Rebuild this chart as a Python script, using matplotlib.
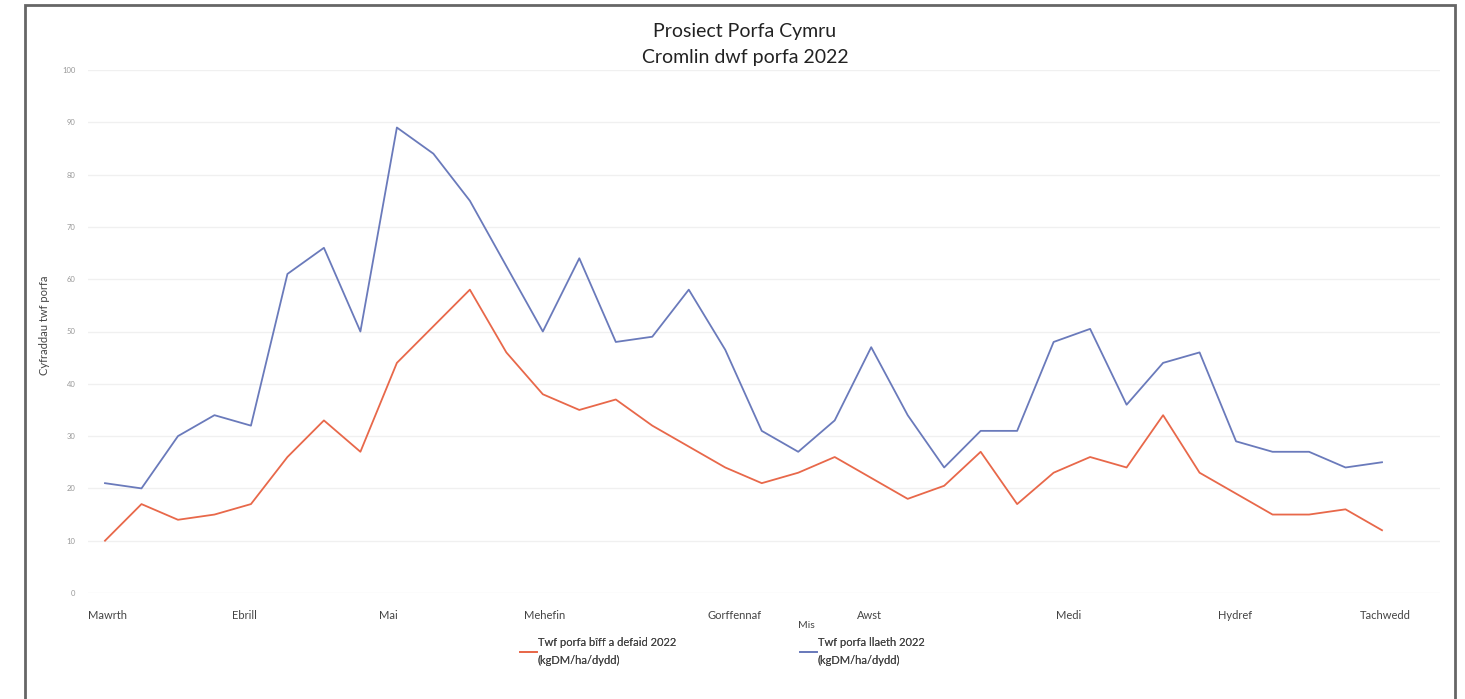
import matplotlib
matplotlib.use("Agg")
import matplotlib.pyplot as plt
from matplotlib.patches import Rectangle
import numpy as np

plt.rcParams['font.family'] = ['Lato', 'DejaVu Sans']

# --- data ---
title_lines = ["Prosiect Porfa Cymru", "Cromlin dwf porfa 2022"]
y_label = "Cyfraddau twf porfa"
x_label = "Mis"
series_names = ["Twf porfa bîff a defaid 2022\n(kgDM/ha/dydd)",
                "Twf porfa llaeth 2022\n(kgDM/ha/dydd)"]
beef_sheep = [10, 17, 14, 15, 17, 26, 33, 27, 44, 51, 58, 46, 38, 35, 37, 32,
              28, 24, 21, 23, 26, 22, 18, 20.5, 27, 17, 23, 26, 24, 34, 23, 19,
              15, 15, 16, 12]
dairy = [21, 20, 30, 34, 32, 61, 66, 50, 89, 84, 75, 62.5, 50, 64, 48, 49,
         58, 46.5, 31, 27, 33, 47, 34, 24, 31, 31, 48, 50.5, 36, 44, 46, 29,
         27, 27, 24, 25]
months = ["Mawrth", "Ebrill", "Mai", "Mehefin", "Gorffennaf", "Awst", "Medi",
          "Hydref", "Tachwedd"]
month_pos = [0.07, 3.82, 7.76, 12.06, 17.25, 20.94, 26.4, 30.97, 35.1]
y_ticks = [0, 10, 20, 30, 40, 50, 60, 70, 80, 90, 100]

W, H = 1465, 699
fig = plt.figure(figsize=(W / 100, H / 100), dpi=100)
fig.patch.set_facecolor('white')

# outer frame
fig.add_artist(Rectangle((25 / W, -0.05), (1455 - 25) / W, 1.05 - 5 / H,
                         transform=fig.transFigure, fill=False,
                         edgecolor='#666666', linewidth=2))

ax_l, ax_r, ax_t, ax_b = 88, 1440, 70, 593
ax = fig.add_axes([ax_l / W, 1 - ax_b / H, (ax_r - ax_l) / W, (ax_b - ax_t) / H])
x = np.arange(len(dairy))
l1, = ax.plot(x, beef_sheep, color='#e8684a', linewidth=1.3)
l2, = ax.plot(x, dairy, color='#6a7abb', linewidth=1.3)

step = (1382 - 105) / 35
ax.set_xlim(-(105 - ax_l) / step, 35 + (ax_r - 1382) / step)
ax.set_ylim(0, 100)
ax.set_yticks(y_ticks)
ax.set_yticklabels([str(v) for v in y_ticks], fontsize=5.5, color='#999999')
ax.set_xticks(month_pos)
ax.set_xticklabels(months, fontsize=8, color='#444444')
ax.tick_params(axis='both', length=0)
ax.tick_params(axis='y', pad=9)
ax.tick_params(axis='x', pad=12)
ax.grid(axis='y', color='#f0f0f0', linewidth=1)
ax.set_axisbelow(True)
for s in ax.spines.values():
    s.set_visible(False)

fig.text(45 / W, 1 - 325 / H, y_label, rotation=90, ha='center', va='center',
         fontsize=8, color='#444444')
fig.text(806 / W, 1 - 625 / H, x_label, ha='center', va='center',
         fontsize=7.5, color='#444444')
fig.text(745 / W, 1 - 32 / H, title_lines[0], ha='center', va='center',
         fontsize=14, color='#222222')
fig.text(745 / W, 1 - 58 / H, title_lines[1], ha='center', va='center',
         fontsize=14, color='#222222')

for line, name, x0 in [(l1, series_names[0], 520), (l2, series_names[1], 800)]:
    leg = fig.legend([line], [name], loc='upper left',
                     bbox_to_anchor=(x0 / W, 1 - 637 / H), frameon=False,
                     fontsize=8, handlelength=1.5, handletextpad=0.1,
                     borderaxespad=0, borderpad=0, labelcolor='#444444')
    for t in leg.get_texts():
        t.set_linespacing(1.75)
    fig.add_artist(leg)

fig.savefig('out.png', dpi=100, facecolor='white')
